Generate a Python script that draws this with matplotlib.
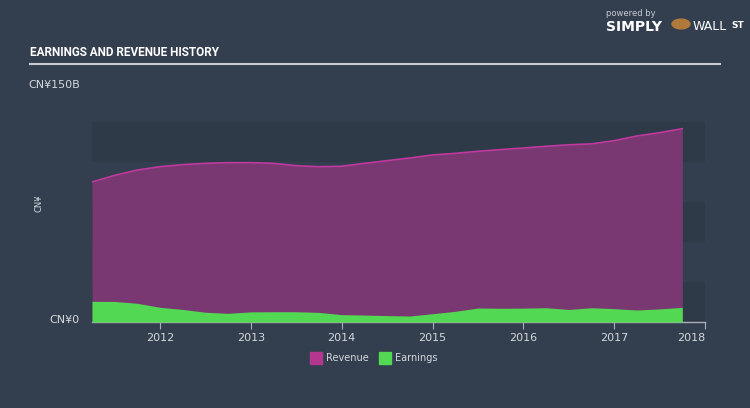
import numpy as np
import matplotlib
matplotlib.use("Agg")
import matplotlib.pyplot as plt
from matplotlib.patches import Rectangle

# quarterly data, values in CN¥ billions
years = [2011.25 + 0.25 * k for k in range(27)]
revenue = [105, 110, 114, 116.5, 118, 119, 119.5, 119.5, 119, 117.2, 116.5, 116.8,
           119, 121, 123, 125.3, 126.5, 128, 129.3, 130.5, 131.8, 132.9, 133.6,
           136, 139.5, 142, 145]
earnings = [15.5, 15.4, 14.0, 11.0, 9.4, 7.3, 6.5, 7.6, 7.7, 7.7, 7.2, 5.5,
            5.2, 4.8, 4.5, 6.2, 8.0, 10.5, 10.3, 10.4, 10.7, 9.4, 10.7,
            10.0, 9.0, 9.8, 11.0]
tick_years = [2012, 2013, 2014, 2015, 2016, 2017, 2018]

bg = "#333f4f"
band = "#2e3a48"
rev_fill = "#7a3872"
rev_line = "#c1399f"
earn_col = "#53d853"
txt = "#d4d8dc"

W, H = 750, 408
fig = plt.figure(figsize=(W / 100, H / 100), dpi=100, facecolor=bg)

def fx(px):
    return px / W

def fy(py):
    return 1 - py / H

ax = fig.add_axes([fx(92), fy(322), fx(705) - fx(92), fy(122) - fy(322)])
ax.set_facecolor(bg)
ax.set_xlim(2011.25, 2018.0)
ax.set_ylim(0, 150)

# alternating background bands
for lo in [0, 60, 120]:
    ax.axhspan(lo, lo + 30, color=band, zorder=0, lw=0)

ax.fill_between(years, 0, revenue, color=rev_fill, lw=0, zorder=1)
ax.plot(years, revenue, color=rev_line, lw=1.2, zorder=2)
ax.fill_between(years, 0, earnings, color=earn_col, lw=0, zorder=3)

for s in ["top", "left", "right"]:
    ax.spines[s].set_visible(False)
ax.spines["bottom"].set_color("#a9b0b8")
ax.spines["bottom"].set_linewidth(1)
ax.set_yticks([])
ax.set_xticks(tick_years)
ax.set_xticklabels([str(y) for y in tick_years], color=txt, fontsize=8)
ax.tick_params(axis="x", length=5, color="#a9b0b8", pad=3)
lbls = ax.get_xticklabels()
lbls[-1].set_horizontalalignment("right")

# y labels
fig.text(fx(80), fy(85), "CN¥150B", color=txt, fontsize=8, ha="right", va="center")
fig.text(fx(80), fy(320), "CN¥0", color=txt, fontsize=8, ha="right", va="center")
fig.text(fx(39), fy(203), "CN¥", color=txt, fontsize=6, rotation=90, ha="center", va="center")

# title and rule
fig.text(fx(30), fy(52), "EARNINGS AND REVENUE HISTORY", color="white", fontsize=8.5,
         fontweight="bold", family=["Roboto", "DejaVu Sans"], fontstretch="condensed",
         ha="left", va="center")
fig.add_artist(plt.Line2D([fx(30), fx(720)], [fy(64), fy(64)], color="#c5ccd4", lw=1.5))

# legend
fig.add_artist(Rectangle((fx(310), fy(364)), fx(12), 12 / H, color="#b3378f", transform=fig.transFigure))
fig.text(fx(326), fy(358), "Revenue", color=txt, fontsize=7, ha="left", va="center")
fig.add_artist(Rectangle((fx(379), fy(364)), fx(12), 12 / H, color=earn_col, transform=fig.transFigure))
fig.text(fx(395), fy(358), "Earnings", color=txt, fontsize=7, ha="left", va="center")

# branding
fig.text(fx(606), fy(14), "powered by", color="#c5ccd4", fontsize=6, ha="left", va="center")
fig.text(fx(606), fy(27), "SIMPLY", color="white", fontsize=10, fontweight="bold", ha="left", va="center")
fig.add_artist(plt.Circle((fx(681), fy(24)), 9 / W, color="#b07a3a", transform=fig.transFigure))
fig.text(fx(693), fy(27), "WALL", color="white", fontsize=9, ha="left", va="center")
fig.text(fx(731), fy(25), "ST", color="white", fontsize=6.5, fontweight="bold", ha="left", va="center")

fig.savefig("out.png", dpi=100, facecolor=bg)
